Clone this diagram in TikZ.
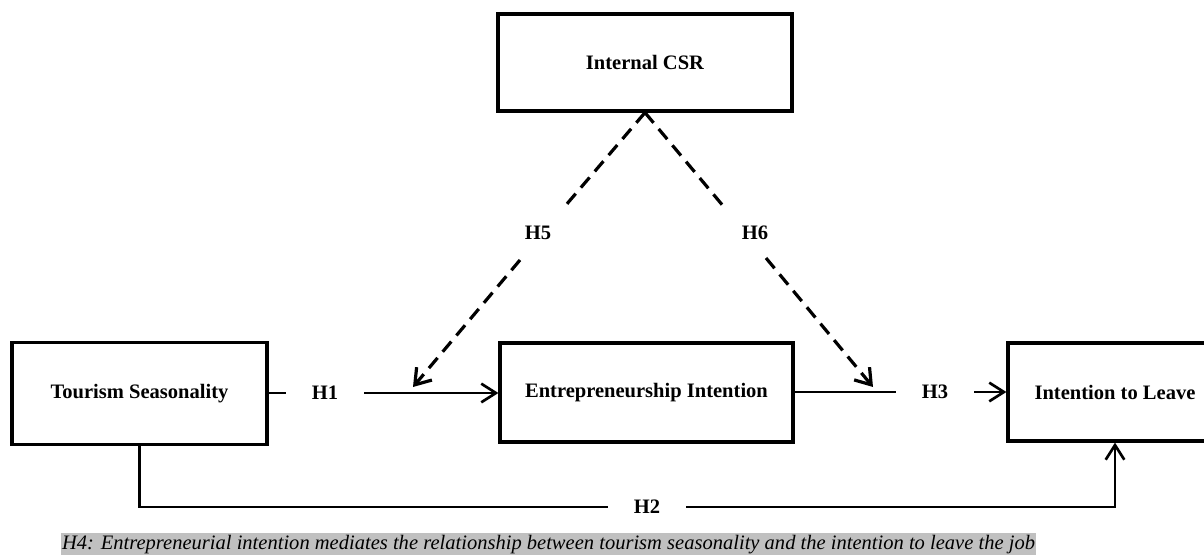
\documentclass[tikz,border=0pt]{standalone}
\usepackage{fontspec}
\setmainfont{Liberation Serif}
\usetikzlibrary{arrows.meta}
\definecolor{bandgray}{RGB}{192,192,192}
\begin{document}
\begin{tikzpicture}[x=0.75pt, y=-0.75pt,
  box/.style={draw, line width=2.4pt, fill=white, inner sep=0pt,
    font=\fontsize{15.4}{18}\selectfont\bfseries},
  lbl/.style={inner xsep=19.5pt, inner ysep=2pt,
    font=\fontsize{15.4}{18}\selectfont\bfseries},
  plainlbl/.style={inner sep=1pt, font=\fontsize{15.4}{18}\selectfont\bfseries},
  conn/.style={line width=2pt},
  arr/.style={line width=2pt, -{Straight Barb[length=11pt, width=14pt]}},
  dashline/.style={line width=2.4pt, dash pattern=on 10pt off 6pt},
  dasharr/.style={dashline, -{Straight Barb[length=11pt, width=15pt]}},
  note/.style={fill=bandgray, inner xsep=1pt, inner ysep=0pt,
    text height=12.5pt, text depth=3.8pt,
    font=\fontsize{15.4}{18}\selectfont\itshape}
]
\useasboundingbox (0,0) rectangle (1204,560);
\clip (0,0) rectangle (1204,560);

% boxes
\node[box, minimum width=220.5pt, minimum height=72.75pt] (csr) at (645,62.5) {Internal CSR};
\node[box, minimum width=191.25pt, minimum height=76.5pt] (ts) at (139.5,393.5) {Tourism Seasonality};
\node[box, minimum width=219.75pt, minimum height=74.25pt] (ei) at (646.5,392.5) {Entrepreneurship Intention};
\node[box, minimum width=160.5pt, minimum height=73.5pt] (itl) at (1115,392) {Intention to Leave};

% path labels
\node[lbl] (h1) at (325,393) {H1};
\node[lbl] (h3) at (935,392) {H3};
\node[lbl] (h2) at (647,507) {H2};
\node[plainlbl] (h5) at (538,233) {H5};
\node[plainlbl] (h6) at (755,233) {H6};

% free ends of the moderating paths
\coordinate (h5a) at (566,205);
\coordinate (h5b) at (520,260);
\coordinate (h5tip) at (413,387);
\coordinate (h6a) at (724,207);
\coordinate (h6b) at (766,258);
\coordinate (h6tip) at (873,387);

% H1
\draw[conn] (ts.east |- h1.west) -- (h1.west);
\draw[arr] (h1.east) -- (ei.west |- h1.east);
% H3
\draw[conn] (ei.east |- h3.west) -- (h3.west);
\draw[arr] (h3.east) -- (itl.west |- h3.east);
% H2
\draw[conn] (ts.south) |- (h2.west);
\draw[arr] (h2.east) -| (itl.south);
% H5
\draw[dashline] (csr.south) -- (h5a);
\draw[dasharr] (h5b) -- (h5tip);
% H6
\draw[dashline] (csr.south) -- (h6a);
\draw[dasharr] (h6b) -- (h6tip);

% note
\node[note] (h4) at (548.5,544) {H4: Entrepreneurial intention mediates the relationship between tourism seasonality and the intention to leave the job};
\end{tikzpicture}
\end{document}
